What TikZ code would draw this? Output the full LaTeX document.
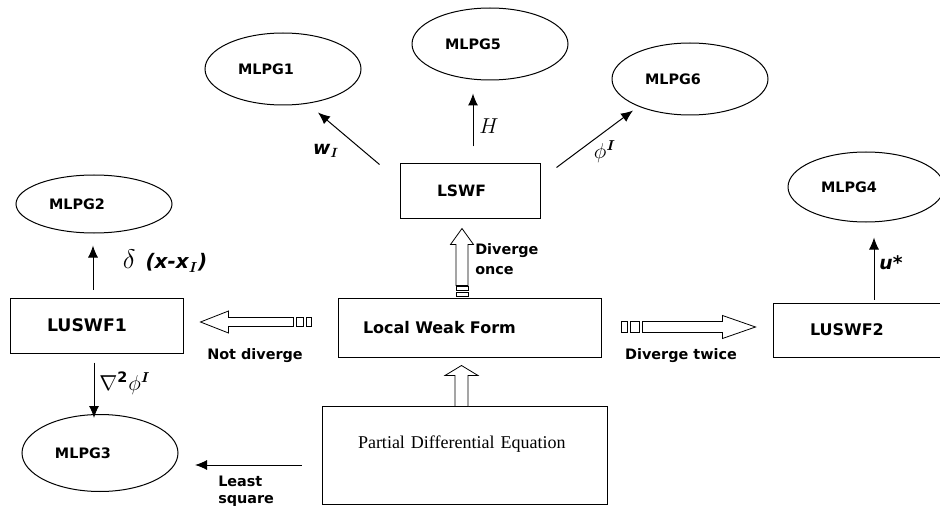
\documentclass[tikz,border=0pt]{standalone}
\usepackage{amsmath,amssymb}
\usepackage{graphicx}
\usepackage{fontspec}
\setmainfont{Liberation Serif}
\newfontfamily\vfont{DejaVu Sans}
\usetikzlibrary{arrows.meta, calc, shapes.geometric}

\tikzset{
  oval/.style={ellipse, draw, line width=0.75pt, minimum width=117pt, minimum height=54pt,
    text width=67.5pt, align=left, font=\vfont\bfseries\fontsize{10.8}{13}\selectfont},
  box/.style={draw, line width=0.75pt, inner xsep=27.75pt, align=left,
    font=\vfont\bfseries\fontsize{12}{14}\selectfont},
  arr/.style={-{Latex[length=9pt,width=7.5pt]}, line width=0.75pt},
  hollow/.style={draw, fill=white, line width=0.6pt},
  lbl/.style={font=\vfont\bfseries\fontsize{10.8}{13}\selectfont, inner sep=0pt},
}

\begin{document}
\begin{tikzpicture}[x=0.75pt, y=-0.75pt]
\useasboundingbox (0,0) rectangle (940,510);

% Ellipses
\node[oval] (g1) at (283,69) {MLPG1};
\node[oval] (g5) at (490,44) {MLPG5};
\node[oval] (g6) at (690,79) {MLPG6};
\node[oval, minimum height=43.5pt] (g2) at (94,204) {MLPG2};
\node[oval, minimum height=52.5pt] (g4) at (866,187) {MLPG4};
\node[oval, minimum height=57.75pt] (g3) at (100,453) {MLPG3};

% Boxes
\node[box, text width=49.5pt, minimum height=40.5pt, font=\vfont\bfseries\fontsize{11.7}{14}\selectfont] (lswf) at (470,191) {LSWF};
\node[box, text width=74.25pt, minimum height=41.25pt, font=\vfont\bfseries\fontsize{13}{15}\selectfont] (lus1) at (96.5,325.5) {LUSWF1};
\node[box, inner xsep=18.75pt, text width=159.75pt, minimum height=44.25pt] (lwf) at (469.5,327.5) {Local Weak Form};
\node[box, text width=73.5pt, minimum height=40.5pt] (lus2) at (859,330) {LUSWF2};
\node[box, inner xsep=27pt, inner ysep=0pt, text width=159.75pt, text height=31.5pt, text depth=42pt,
  font=\fontsize{13.5}{16}\selectfont] (pde) at (464.5,455) {Partial Differential Equation};

% Plain arrows
\draw[arr] ($(lswf.north west)+(-20,1)$) -- ($(g1.south)+(35,7)$);
\draw[arr] ($(lswf.north)+(3,-17)$) -- ($(g5.south)+(-17,13)$);
\draw[arr] ($(lswf.north east)+(16,4)$) -- ($(g6.south)+(-57,-5)$);
\draw[arr] ($(lus1.north)+(-3.5,-8)$) -- ($(g2.south)+(-1,12)$);
\draw[arr] ($(lus1.south)+(-2.5,9)$) -- ($(g3.north)+(-6,4)$);
\draw[arr] ($(pde.west)+(-20,10)$) -- ($(g3.east)+(16.5,12)$);
\draw[arr] ($(lus2.north)+(15,-3)$) -- ($(g4.south)+(8,15)$);

% Hollow arrows
\coordinate (ndTip) at ($(lus1.east)+(17,-3.5)$);
\draw[hollow, shift={(ndTip)}] (0,0) -- (28,-11) -- (28,-4.5) -- (93,-4.5) -- (93,4.5) -- (28,4.5) -- (28,11) -- cycle;
\draw[hollow, shift={(ndTip)}] (96,-4.5) rectangle (103,4.5);
\draw[hollow, shift={(ndTip)}] (106,-4.5) rectangle (111,4.5);

\coordinate (dtTip) at ($(lus2.west)+(-17,-3)$);
\draw[hollow, shift={(dtTip)}] (0,0) -- (-33,-11.5) -- (-33,-5.5) -- (-113,-5.5) -- (-113,5.5) -- (-33,5.5) -- (-33,11.5) -- cycle;
\draw[hollow, shift={(dtTip)}] (-125,-5.5) rectangle (-116,5.5);
\draw[hollow, shift={(dtTip)}] (-134,-5.5) rectangle (-128,5.5);

\coordinate (doTip) at ($(lswf.south)+(-8,10)$);
\draw[hollow, shift={(doTip)}] (0,0) -- (11.5,16) -- (6,16) -- (6,57) -- (-6,57) -- (-6,16) -- (-11.5,16) -- cycle;
\draw[hollow, shift={(doTip)}] (-6,58) rectangle (6,62);
\draw[hollow, shift={(doTip)}] (-6,64) rectangle (6,68);

\coordinate (peTip) at ($(lwf.south)+(-8,8)$);
\draw[hollow, shift={(peTip)}] (0,0) -- (16.5,10) -- (6.5,10) -- (6.5,41) -- (-6.5,41) -- (-6.5,10) -- (-16.5,10) -- cycle;

% Labels
\node[lbl] (ndLbl) at (255,356) {Not diverge};
\node[lbl] (dtLbl) at (681,356) {Diverge twice};
\node[lbl, align=left, anchor=west, font=\vfont\bfseries\fontsize{10.8}{15}\selectfont] (doLbl) at (475,259) {Diverge\\once};
\node[lbl, align=left, anchor=west, font=\vfont\bfseries\fontsize{10.8}{12.5}\selectfont] (lsLbl) at (218,491) {Least\\square};
\node[lbl, font=\fontsize{14}{16}\selectfont] (wLbl) at (326,151) {{\vfont\bfseries\itshape w}$_{\boldsymbol{I}}$};
\node[lbl, font=\fontsize{12}{14}\selectfont] (hLbl) at (489,126) {\scalebox{1.35}{$H$}};
\node[lbl, font=\fontsize{12}{14}\selectfont] (pLbl) at (605,152) {\scalebox{1.35}{$\phi^{\boldsymbol{I}}$}};
\node[lbl, font=\fontsize{15}{17}\selectfont] (dLbl) at (165,261) {\scalebox{1.4}{$\delta$}\enspace{\vfont\bfseries\itshape (x-x}$_{\boldsymbol{I}}${\vfont\bfseries\itshape )}};
\node[lbl, font=\fontsize{12}{14}\selectfont] (nLbl) at (125,383) {\scalebox{1.35}{$\nabla$\textsuperscript{\vfont\bfseries 2}$\phi^{\boldsymbol{I}}$}};
\node[lbl, font=\fontsize{14}{16}\selectfont] (uLbl) at (891,263) {{\vfont\bfseries\itshape u*}};

\end{tikzpicture}
\end{document}
